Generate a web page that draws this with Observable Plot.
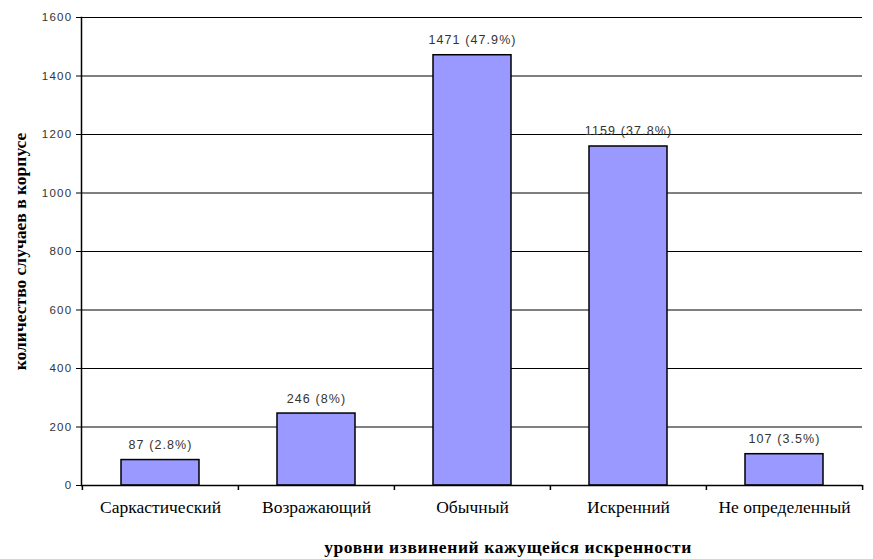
<!DOCTYPE html>
<html>
<head>
<meta charset="utf-8">
<script src="https://cdn.jsdelivr.net/npm/d3@7"></script>
<script src="https://cdn.jsdelivr.net/npm/@observablehq/plot@0.6"></script>
<style>
  html, body { margin: 0; padding: 0; background: #fff; }
  #chart { width: 873px; height: 559px; position: relative; }
  .serif-text text { font-family: "Liberation Serif", "DejaVu Serif", "Times New Roman", serif !important; }
  .val-text text { letter-spacing: 1.1px; }
  .ytick-text text { letter-spacing: 1.3px; }
  .xtitle-text text { letter-spacing: 0.6px; }
</style>
</head>
<body>
<div id="chart"></div>
<script>
const categories = ["Саркастический", "Возражающий", "Обычный", "Искренний", "Не определенный"];
const counts = [87, 246, 1471, 1159, 107];
const percents = ["2.8%", "8%", "47.9%", "37.8%", "3.5%"];
const yTicks = [0, 200, 400, 600, 800, 1000, 1200, 1400, 1600];
const xTitle = "уровни извинений кажущейся искренности";
const yTitle = "количество случаев в корпусе";

const data = categories.map((c, i) => ({cat: c, n: counts[i], label: `${counts[i]} (${percents[i]})`}));

const W = 873, H = 559, mL = 81, mR = 11, mT = 17, mB = 74;
const step = (W - mL - mR) / categories.length;
const serif = "Liberation Serif, DejaVu Serif, serif";
const sans = "Liberation Sans, Arial, sans-serif";

const chart = Plot.plot({
  width: W, height: H,
  marginLeft: mL, marginRight: mR, marginTop: mT, marginBottom: mB,
  style: {background: "#fff", fontFamily: sans},
  x: {domain: categories, paddingInner: 0.5, paddingOuter: 0.25, label: null},
  y: {domain: [0, 1600], label: null},
  marks: [
    Plot.ruleY(yTicks, {stroke: "#000", strokeWidth: 1}),
    Plot.barY(data, {x: "cat", y: "n", fill: "#9999ff", stroke: "#000", strokeWidth: 1.5}),
    Plot.text(data, {x: "cat", y: "n", text: "label", dy: -15, fontSize: 12.5, fill: "#333", fontFamily: sans, className: "val-text"}),
    Plot.ruleX(data, {x: "cat", y1: 0, y2: 0, dx: -step / 2, insetBottom: -5, stroke: "#000", strokeWidth: 1.5}),
    Plot.ruleX(data.slice(-1), {x: "cat", y1: 0, y2: 0, dx: step / 2, insetBottom: -5, stroke: "#000", strokeWidth: 1.5}),
    Plot.ruleY([0], {stroke: "#000", strokeWidth: 1.5}),
    Plot.axisY({ticks: yTicks, tickFormat: d3.format("d"), tickSize: 5, tickPadding: 4, fontSize: 11.5, fill: "#333", stroke: "#000", label: null, fontFamily: sans, className: "ytick-text"}),
    Plot.axisX({tickSize: 0, tickPadding: 15, fontSize: 17.5, fill: "#000", label: null, fontFamily: serif, className: "serif-text"}),
    Plot.frame({anchor: "left", stroke: "#000", strokeWidth: 1.5}),
    Plot.text([xTitle], {frameAnchor: "bottom", x: null, text: d => d, dy: 67, dx: 36, fontSize: 17.5, fontWeight: "bold", fontFamily: serif, fill: "#000", className: "serif-text xtitle-text"}),
    Plot.text([yTitle], {frameAnchor: "left", text: d => d, textAnchor: "middle", dx: -61, dy: 0, rotate: -90, fontSize: 17.5, fontWeight: "bold", fontFamily: serif, fill: "#000", className: "serif-text"})
  ]
});
document.getElementById("chart").appendChild(chart);
</script>
</body>
</html>
